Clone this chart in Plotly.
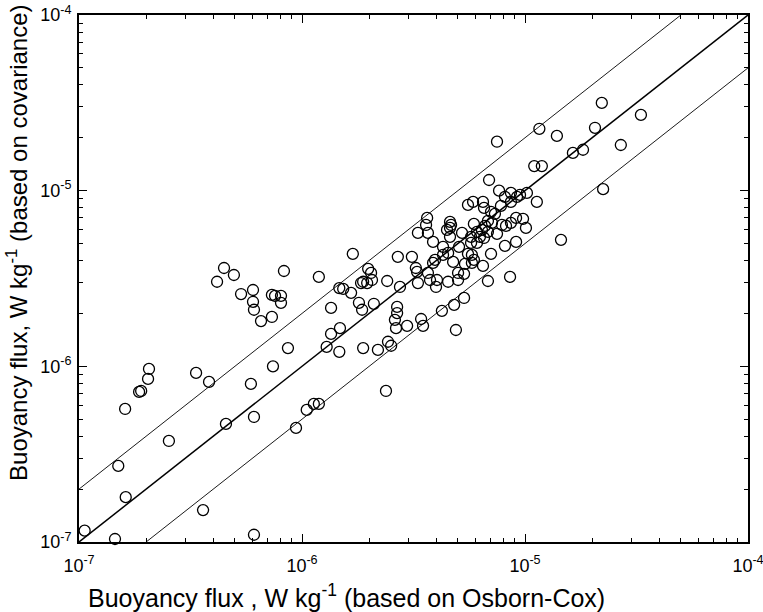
import plotly.graph_objects as go

# Buoyancy flux based on Osborn-Cox (x) and on covariance (y), W kg^-1
osborn_cox = [
    1.06e-7, 1.45e-7, 1.61e-7, 1.50e-7, 1.62e-7, 2.53e-7, 3.60e-7, 4.56e-7, 6.09e-7, 6.09e-7,
    4.47e-7, 4.95e-7, 4.16e-7, 5.33e-7, 6.03e-7, 6.03e-7, 6.09e-7, 6.55e-7, 7.33e-7, 7.57e-7,
    8.05e-7, 8.05e-7, 8.30e-7, 7.33e-7, 1.19e-6, 1.35e-6, 1.35e-6, 1.29e-6, 1.47e-6, 1.48e-6,
    1.47e-6, 8.65e-7, 7.41e-7, 5.90e-7, 9.40e-7, 1.05e-6, 1.13e-6, 1.19e-6, 3.35e-7, 3.83e-7,
    2.06e-7, 2.04e-7, 1.86e-7, 1.90e-7,
    1.69e-6, 1.53e-6, 1.66e-6, 1.80e-6, 1.86e-6, 2.10e-6, 1.88e-6, 1.98e-6, 2.04e-6, 2.06e-6,
    1.96e-6, 1.84e-6, 2.41e-6, 2.69e-6, 2.75e-6, 3.11e-6, 3.24e-6, 3.28e-6, 3.31e-6, 3.67e-6,
    3.87e-6, 3.95e-6, 3.75e-6, 4.03e-6, 3.99e-6, 4.29e-6, 4.52e-6, 4.52e-6, 3.31e-6, 3.67e-6,
    3.87e-6, 3.60e-6, 4.47e-6, 2.67e-6, 2.67e-6, 2.61e-6, 2.64e-6, 2.96e-6, 3.42e-6, 3.49e-6,
    4.24e-6, 2.43e-6, 2.51e-6, 1.88e-6, 2.19e-6, 3.64e-6, 2.38e-6,
    7.49e-6, 6.90e-6, 4.61e-6, 4.66e-6, 4.61e-6, 4.61e-6, 5.22e-6, 5.06e-6, 5.55e-6, 5.85e-6,
    6.48e-6, 6.55e-6, 7.04e-6, 7.65e-6, 8.13e-6, 8.65e-6, 8.65e-6, 9.21e-6, 7.80e-6, 7.33e-6,
    9.12e-6, 8.65e-6, 8.22e-6, 7.11e-6, 6.62e-6, 5.90e-6, 6.09e-6, 6.41e-6, 6.82e-6, 7.49e-6,
    5.73e-6, 6.09e-6, 6.55e-6, 8.13e-6, 9.12e-6, 7.04e-6, 6.48e-6, 5.90e-6, 5.55e-6, 5.78e-6,
    5.38e-6, 4.76e-6, 6.82e-6, 8.57e-6, 5.33e-6, 4.81e-6, 4.90e-6, 5.33e-6, 5.01e-6, 9.50e-6,
    1.02e-5, 1.13e-5, 7.88e-6, 9.80e-6, 1.01e-5, 6.28e-6, 5.73e-6, 4.29e-6, 5.78e-6, 5.01e-6,
    1.45e-5, 6.82e-6,
    2.21e-5, 3.31e-5, 1.16e-5, 1.39e-5, 2.06e-5, 2.69e-5, 1.64e-5, 1.82e-5, 1.10e-5, 1.19e-5,
    2.24e-5,
]
covariance = [
    1.16e-7, 1.04e-7, 5.72e-7, 2.71e-7, 1.80e-7, 3.76e-7, 1.52e-7, 4.70e-7, 5.15e-7, 1.10e-7,
    3.63e-6, 3.31e-6, 3.03e-6, 2.58e-6, 2.72e-6, 2.33e-6, 2.10e-6, 1.81e-6, 2.55e-6, 2.52e-6,
    2.52e-6, 2.30e-6, 3.49e-6, 1.91e-6, 3.23e-6, 2.15e-6, 1.53e-6, 1.29e-6, 2.79e-6, 1.65e-6,
    1.21e-6, 1.27e-6, 1.00e-6, 7.94e-7, 4.46e-7, 5.65e-7, 6.11e-7, 6.11e-7, 9.17e-7, 8.15e-7,
    9.66e-7, 8.48e-7, 7.15e-7, 7.24e-7,
    4.37e-6, 2.76e-6, 2.62e-6, 2.30e-6, 2.10e-6, 2.27e-6, 3.03e-6, 3.59e-6, 3.40e-6, 3.10e-6,
    2.98e-6, 2.98e-6, 3.06e-6, 4.20e-6, 2.83e-6, 4.20e-6, 3.63e-6, 3.45e-6, 2.98e-6, 3.40e-6,
    3.88e-6, 4.04e-6, 3.10e-6, 3.10e-6, 2.83e-6, 4.31e-6, 4.42e-6, 3.03e-6, 5.75e-6, 5.75e-6,
    5.11e-6, 6.38e-6, 5.98e-6, 2.18e-6, 2.01e-6, 1.84e-6, 1.65e-6, 1.70e-6, 1.86e-6, 1.70e-6,
    2.07e-6, 1.38e-6, 1.31e-6, 1.27e-6, 1.24e-6, 7.00e-6, 7.24e-7,
    1.90e-5, 1.15e-5, 6.64e-6, 6.38e-6, 6.14e-6, 5.46e-6, 5.75e-6, 4.79e-6, 8.30e-6, 8.63e-6,
    8.63e-6, 7.98e-6, 7.57e-6, 1.00e-5, 9.22e-6, 9.71e-6, 8.63e-6, 9.22e-6, 8.19e-6, 7.38e-6,
    7.00e-6, 6.56e-6, 6.30e-6, 6.56e-6, 6.30e-6, 6.47e-6, 5.83e-6, 5.98e-6, 5.83e-6, 5.68e-6,
    5.46e-6, 5.04e-6, 5.38e-6, 4.85e-6, 5.11e-6, 4.37e-6, 3.73e-6, 4.04e-6, 4.37e-6, 3.88e-6,
    3.83e-6, 3.93e-6, 3.06e-6, 3.23e-6, 2.45e-6, 2.24e-6, 1.61e-6, 3.36e-6, 3.40e-6, 9.46e-6,
    9.71e-6, 8.63e-6, 6.38e-6, 6.91e-6, 6.14e-6, 5.46e-6, 5.04e-6, 4.79e-6, 4.31e-6, 3.10e-6,
    5.25e-6, 6.73e-6,
    3.16e-5, 2.70e-5, 2.25e-5, 2.05e-5, 2.28e-5, 1.82e-5, 1.64e-5, 1.71e-5, 1.38e-5, 1.38e-5,
    1.02e-5,
]

line_x = [1e-7, 1e-4]
ratios = [1.0, 2.0, 0.5]
ratio_widths = [1.5, 0.9, 0.9]

tick_vals = [1e-7, 1e-6, 1e-5, 1e-4]
tick_text = ["10<sup>-7</sup>", "10<sup>-6</sup>", "10<sup>-5</sup>", "10<sup>-4</sup>"]

fig = go.Figure()
for r, w in zip(ratios, ratio_widths):
    fig.add_trace(go.Scatter(
        x=line_x, y=[v * r for v in line_x], mode="lines",
        line=dict(color="black", width=w), hoverinfo="skip", showlegend=False,
    ))

fig.add_trace(go.Scatter(
    x=osborn_cox, y=covariance, mode="markers",
    marker=dict(symbol="circle-open", size=11, color="black", line=dict(width=1.3, color="black")),
    showlegend=False, cliponaxis=False,
))

axis_common = dict(
    type="log", range=[-7, -4], showgrid=False, zeroline=False, automargin=False,
    showline=True, linecolor="black", linewidth=2, mirror="ticks",
    ticks="inside", ticklen=8, tickwidth=1.2, tickcolor="black",
    tickvals=tick_vals, ticktext=tick_text, ticklabeloverflow="allow",
    tickfont=dict(family="Liberation Sans, Arial, sans-serif", size=18, color="black"),
    minor=dict(ticks="inside", ticklen=4, tickwidth=1, tickcolor="black", dtick="D1", showgrid=False),
)

fig.update_layout(
    width=763, height=612,
    margin=dict(l=79, r=15, t=15, b=70),
    paper_bgcolor="white", plot_bgcolor="white",
    font=dict(family="Liberation Sans, Arial, sans-serif", color="black"),
    xaxis=dict(**axis_common, ticklabelstandoff=6),
    yaxis=dict(**axis_common, ticklabelstandoff=2),
    annotations=[
        dict(text="Buoyancy flux , W kg<sup>-1</sup> (based on Osborn-Cox)",
             xref="paper", yref="paper", x=0.40, y=-0.102, xanchor="center", yanchor="middle",
             showarrow=False, font=dict(size=25, color="black")),
        dict(text="Buoyancy flux, W kg<sup>-1</sup> (based on covariance)",
             xref="paper", yref="paper", x=-0.093, y=0.567, xanchor="center", yanchor="middle",
             textangle=-90, showarrow=False, font=dict(size=24, color="black")),
    ],
)

fig.write_html(
    "out.html",
    config={"displayModeBar": False},
    post_script="document.body.style.margin='0';document.body.style.padding='0';"
                "document.body.style.overflow='hidden';",
)
